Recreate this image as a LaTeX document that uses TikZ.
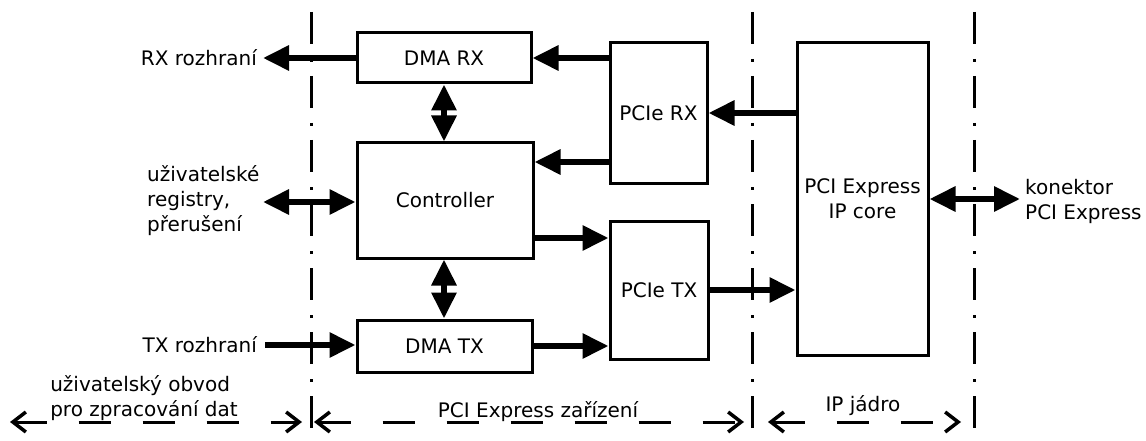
\documentclass[tikz,border=0pt]{standalone}
\usepackage{fontspec}
\setmainfont{DejaVu Sans}
\usetikzlibrary{arrows.meta}
\begin{document}
\begin{tikzpicture}[x=1pt,y=-1pt,
  font=\fontsize{20}{25}\selectfont,
  block/.style={draw, line width=3pt, inner sep=0pt, align=center},
  bus/.style={line width=6pt, -{Triangle[length=26pt,width=24pt]}},
  busboth/.style={line width=6pt, {Triangle[length=26pt,width=24pt]}-{Triangle[length=26pt,width=24pt]}},
  border/.style={line width=3pt, dash pattern=on 32pt off 15pt on 3pt off 14pt},
  span/.style={line width=3pt, dash pattern=on 32pt off 32pt,
    {Straight Barb[length=13pt,width=20pt,line width=3.5pt]}-{Straight Barb[length=13pt,width=20pt,line width=3.5pt]}},
  lab/.style={inner sep=0pt, align=left}]

\useasboundingbox (0,0) rectangle (1146,441);

% domain boundaries (dash-dot)
\coordinate (b1t) at (311,12);  \coordinate (b1b) at (311,446);
\coordinate (b2t) at (752,12);  \coordinate (b2b) at (752,446);
\coordinate (b3t) at (974,12);  \coordinate (b3b) at (974,446);
\draw[border] (b1t) -- (b1b);
\draw[border] (b2t) -- (b2b);
\draw[border] (b3t) -- (b3b);

% functional blocks
\node[block, minimum width=174pt, minimum height=50pt]  (dmarx)  at (444,58)    {DMA RX};
\node[block, minimum width=176pt, minimum height=115pt] (ctrl)   at (445,200.5) {Controller};
\node[block, minimum width=175pt, minimum height=52pt]  (dmatx)  at (444.5,346) {DMA TX};
\node[block, minimum width=97pt,  minimum height=140pt] (pcierx) at (658.5,113) {PCIe RX};
\node[block, minimum width=98pt,  minimum height=138pt] (pcietx) at (659,290)   {PCIe TX};
\node[block, minimum width=131pt, minimum height=312pt] (ipcore) at (862.5,199) {PCI Express\\IP core};

% outside labels
\node[lab, anchor=east] (rxif) at (257,58)  {RX rozhraní};
\node[lab, anchor=east] (txif) at (257,345) {TX rozhraní};
\node[lab, anchor=west] (regs) at (147,201) {uživatelské\\registry,\\přerušení};
\node[lab, anchor=west] (conn) at (1025,201) {konektor\\PCI Express};

% free ends of the external connectors
\coordinate (rxend)   at (263,58);
\coordinate (regsend) at (263,202);
\coordinate (txstart) at (265,345);
\coordinate (connend) at (1020,199);

% data paths
\draw[bus] (dmarx.west) -- (rxend);
\draw[bus] (pcierx.west |- dmarx.east) -- (dmarx.east);
\draw[bus] (pcierx.west |- 0,162) -- (ctrl.east |- 0,162);
\draw[bus] (ipcore.west |- pcierx.east) -- (pcierx.east);
\draw[busboth] (dmarx.south) -- (dmarx.south |- ctrl.north);
\draw[busboth] (dmarx.south |- ctrl.south) -- (dmarx.south |- dmatx.north);
\draw[busboth] (regsend) -- (ctrl.west |- regsend);
\draw[bus] (ctrl.east |- 0,238) -- (pcietx.west |- 0,238);
\draw[bus] (dmatx.east) -- (pcietx.west |- dmatx.east);
\draw[bus] (pcietx.east) -- (ipcore.west |- pcietx.east);
\draw[bus] (txstart) -- (dmatx.west |- txstart);
\draw[busboth] (ipcore.east |- connend) -- (connend);

% domain spans at the bottom
\coordinate (s1a) at (10,422);  \coordinate (s1b) at (302,422);
\coordinate (s2a) at (314,422); \coordinate (s2b) at (744,422);
\coordinate (s3a) at (768,422); \coordinate (s3b) at (961,422);
\draw[span] (s1a) -- (s1b);
\draw[span] (s2a) -- (s2b);
\draw[span] (s3a) -- (s3b);

\node[lab] (usr) at (144,398) {uživatelský obvod\\pro zpracování dat};
\node[lab] (dev) at (538,412) {PCI Express zařízení};
\node[lab] (ipj) at (863,406) {IP jádro};
\end{tikzpicture}
\end{document}
